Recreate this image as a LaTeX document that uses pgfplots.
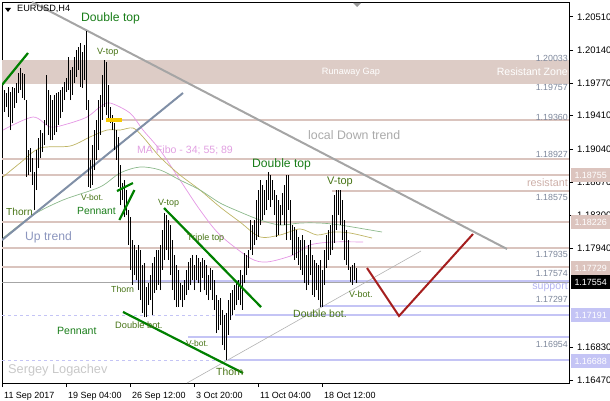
\documentclass[border=0pt]{standalone}
\usepackage{pgfplots}
\usepackage{pgfplotstable}
\pgfplotsset{compat=1.18}
\usepackage{fontspec}
\setmainfont{Liberation Sans}
\definecolor{zone}{RGB}{221,204,198}
\definecolor{lvl}{RGB}{218,196,190}
\definecolor{lav}{RGB}{196,196,245}
\definecolor{tagpink}{RGB}{220,196,190}
\definecolor{downgray}{RGB}{165,165,165}
\definecolor{upblue}{RGB}{128,143,166}
\definecolor{dred}{RGB}{165,30,30}
\definecolor{dgreen}{RGB}{0,128,0}
\definecolor{maviol}{RGB}{228,150,228}
\definecolor{maolive}{RGB}{190,180,100}
\definecolor{magreen}{RGB}{140,185,140}
\definecolor{lblgreen}{RGB}{25,125,25}
\definecolor{lblolive}{RGB}{70,115,20}
\definecolor{pricegray}{RGB}{125,135,155}
\definecolor{mygold}{RGB}{245,200,0}
\newcommand{\fs}[1]{\fontsize{#1}{#1}\selectfont}
\pgfplotstableread{
i l h
0 1.19451 1.19717
1 1.19451 1.19695
2 1.19506 1.19662
3 1.19395 1.19729
4 1.19250 1.19673
5 1.19328 1.19729
6 1.19495 1.19717
7 1.19551 1.19773
8 1.19662 1.19884
9 1.19695 1.19940
10 1.19606 1.19884
11 1.19584 1.19873
12 1.18728 1.19584
13 1.18750 1.19028
14 1.18783 1.19050
15 1.18639 1.18939
16 1.18361 1.18783
17 1.18583 1.19028
18 1.18828 1.19161
19 1.18939 1.19250
20 1.19006 1.19217
21 1.19084 1.19362
22 1.19306 1.19862
23 1.19195 1.19695
24 1.19139 1.19640
25 1.19139 1.19584
26 1.19195 1.19640
27 1.19228 1.19662
28 1.19306 1.19673
29 1.19384 1.19695
30 1.19451 1.19729
31 1.19584 1.19784
32 1.19673 1.19829
33 1.19695 1.20062
34 1.19584 1.19918
35 1.19640 1.19951
36 1.19773 1.20062
37 1.19840 1.20140
38 1.19918 1.20173
39 1.19729 1.20218
40 1.19717 1.20118
41 1.19806 1.20196
42 1.19473 1.20351
43 1.18617 1.19584
44 1.18605 1.18917
45 1.18639 1.19084
46 1.18806 1.19250
47 1.18917 1.19362
48 1.19028 1.19584
49 1.19195 1.19640
50 1.19362 1.19862
51 1.19506 1.20029
52 1.19417 1.20007
53 1.19362 1.19751
54 1.19328 1.19506
55 1.19250 1.19417
56 1.19028 1.19328
57 1.18917 1.19250
58 1.18617 1.19173
59 1.18416 1.18861
60 1.18472 1.18661
61 1.18283 1.18694
62 1.18305 1.18583
63 1.17972 1.18361
64 1.17694 1.18283
65 1.17527 1.18027
66 1.17638 1.17972
67 1.17582 1.17916
68 1.17471 1.17972
69 1.17360 1.17916
70 1.17215 1.17749
71 1.17171 1.17771
72 1.17171 1.17505
73 1.17304 1.17549
74 1.17360 1.17638
75 1.17193 1.17771
76 1.17438 1.17838
77 1.17471 1.17916
78 1.17527 1.17916
79 1.17471 1.17972
80 1.17694 1.18138
81 1.17805 1.18327
82 1.17916 1.18305
83 1.17805 1.18250
84 1.17638 1.18194
85 1.17471 1.18027
86 1.17360 1.17860
87 1.17282 1.17749
88 1.17282 1.17694
89 1.17360 1.17549
90 1.17282 1.17527
91 1.17360 1.17582
92 1.17416 1.17694
93 1.17471 1.17783
94 1.17527 1.17827
95 1.17582 1.17860
96 1.17471 1.17749
97 1.17582 1.17860
98 1.17549 1.17827
99 1.17449 1.17783
100 1.17605 1.17827
101 1.17471 1.17805
102 1.17416 1.17749
103 1.17360 1.17638
104 1.17471 1.17716
105 1.17360 1.17694
106 1.17249 1.17582
107 1.16993 1.17416
108 1.17026 1.17360
109 1.17082 1.17382
110 1.16858 1.17249
111 1.16804 1.17193
112 1.16693 1.17215
113 1.16971 1.17360
114 1.17138 1.17438
115 1.17193 1.17471
116 1.17249 1.17527
117 1.17304 1.17549
118 1.17360 1.17582
119 1.17304 1.17694
120 1.17249 1.17638
121 1.17549 1.17883
122 1.17638 1.17860
123 1.17716 1.17916
124 1.17916 1.18250
125 1.17860 1.18194
126 1.17972 1.18250
127 1.18027 1.18472
128 1.18061 1.18583
129 1.18194 1.18694
130 1.18250 1.18639
131 1.18305 1.18583
132 1.18361 1.18694
133 1.18472 1.18783
134 1.18394 1.18750
135 1.18472 1.18694
136 1.18305 1.18583
137 1.18061 1.18528
138 1.18083 1.18472
139 1.18194 1.18416
140 1.18305 1.18550
141 1.18194 1.18639
142 1.18027 1.18750
143 1.18361 1.18750
144 1.18027 1.18472
145 1.17860 1.18194
146 1.17805 1.18172
147 1.17827 1.18138
148 1.17749 1.18061
149 1.17694 1.18027
150 1.17638 1.18083
151 1.17549 1.18027
152 1.17471 1.17860
153 1.17527 1.17972
154 1.17638 1.18027
155 1.17416 1.17860
156 1.17393 1.17805
157 1.17471 1.17771
158 1.17360 1.17749
159 1.17282 1.17805
160 1.17282 1.17694
161 1.17527 1.17916
162 1.17716 1.18083
163 1.17805 1.18138
164 1.17860 1.18194
165 1.17916 1.18305
166 1.17994 1.18528
167 1.18138 1.18583
168 1.18305 1.18583
169 1.18194 1.18583
170 1.18027 1.18472
171 1.17805 1.18250
172 1.17749 1.18138
173 1.17694 1.18027
174 1.17560 1.17727
175 1.17527 1.17749
176 1.17582 1.17771
177 1.17549 1.17716
}\bars
\begin{document}
\begin{tikzpicture}[x=1bp,y=1bp]
\path[use as bounding box] (0,0) rectangle (610,400);
\begin{axis}[
  at={(2bp,17bp)}, anchor=south west,
  scale only axis, width=567bp, height=381bp,
  xmin=0, xmax=283.5, ymin=1.16437, ymax=1.20674,
  axis line style={black, line width=0.8bp},
  tick align=outside, major tick length=4bp,
  tick style={black, line width=0.6bp},
  xtick pos=bottom, ytick pos=right,
  xtick={0,32,64,96,128,160},
  xticklabels={11 Sep 2017,19 Sep 04:00,26 Sep 12:00,3 Oct 20:00,11 Oct 04:00,18 Oct 12:00},
  xticklabel style={anchor=north west, inner sep=0pt, xshift=2bp, yshift=-5bp, font=\fs{9}},
  yticklabel pos=right,
  ytick={1.2051,1.2014,1.1977,1.1941,1.1904,1.1867,1.1830,1.1794,1.1683,1.1647},
  yticklabel style={anchor=west, inner sep=0pt, xshift=4bp, font=\fs{9.5},
    /pgf/number format/.cd, fixed, fixed zerofill, precision=5, assume math mode=true},
  scaled y ticks=false,
  clip=true,
]
% resistant zone band
\addplot[fill=zone, draw=none] coordinates {(0,1.19757) (283.5,1.19757) (283.5,1.20033) (0,1.20033)} -- cycle;
% pink levels
\addplot[lvl, line width=2bp] coordinates {(52,1.19360) (283.5,1.19360)};
\addplot[lvl, line width=2bp] coordinates {(0,1.18927) (283.5,1.18927)};
\addplot[lvl, line width=2bp] coordinates {(0,1.18755) (283.5,1.18755)};
\addplot[lvl, line width=2bp] coordinates {(165,1.18575) (283.5,1.18575)};
\addplot[lvl, line width=2bp] coordinates {(0,1.18226) (283.5,1.18226)};
\addplot[lvl, line width=2bp] coordinates {(0,1.17935) (283.5,1.17935)};
\addplot[lvl, line width=2bp] coordinates {(0,1.17729) (283.5,1.17729)};
% bid line
\addplot[gray!70, line width=0.6bp] coordinates {(0,1.17554) (283.5,1.17554)};
% lavender levels
\addplot[lav, line width=2bp] coordinates {(65,1.17574) (283.5,1.17574)};
\addplot[lav, line width=2bp] coordinates {(159,1.17297) (283.5,1.17297)};
\addplot[lav, line width=2bp] coordinates {(116.5,1.17191) (283.5,1.17191)};
\addplot[lav, line width=0.8bp, dash pattern=on 3bp off 3bp] coordinates {(0,1.17191) (116.5,1.17191)};
\addplot[lav, line width=2bp] coordinates {(93,1.16954) (283.5,1.16954)};
\addplot[lav, line width=2bp] coordinates {(113,1.16688) (283.5,1.16688)};
\addplot[lav, line width=0.8bp, dash pattern=on 3bp off 3bp] coordinates {(0,1.16688) (113,1.16688)};
% moving averages
\addplot[maviol, line width=0.7bp, smooth] coordinates {(0.5,1.19250) (15.5,1.19395) (24,1.19284) (32.5,1.19317) (42.5,1.19395) (49,1.19506) (54,1.19551) (64,1.19439) (70.5,1.19250) (79,1.19028) (89,1.18694) (99,1.18361) (109,1.18083) (124,1.17827) (132.5,1.17783) (145.5,1.17860) (154,1.17972) (165.5,1.18005) (180.5,1.18005)};
\addplot[maolive, line width=0.7bp, smooth] coordinates {(0.5,1.18728) (9,1.18883) (19,1.19050) (34,1.19072) (44,1.19173) (52.5,1.19250) (59,1.19250) (65.5,1.19273) (70.5,1.19173) (79,1.18950) (89,1.18750) (99,1.18583) (109,1.18394) (119,1.18227) (129,1.18061) (139,1.18083) (149,1.18150) (157.5,1.18083) (165.5,1.18116) (174,1.18105) (185,1.18049)};
\addplot[magreen, line width=0.7bp, smooth] coordinates {(0.5,1.18049) (15.5,1.18305) (30.5,1.18472) (49,1.18617) (59,1.18772) (69,1.18839) (79,1.18806) (89,1.18694) (99,1.18583) (109,1.18439) (119,1.18339) (129,1.18250) (139,1.18194) (149,1.18216) (159,1.18216) (169,1.18194) (190,1.18116)};
% trend lines (behind bars)
\addplot[upblue, line width=2bp] coordinates {(0,1.18027) (90.5,1.19662)};
\addplot[downgray, line width=2bp] coordinates {(15,1.20674) (252.5,1.17927)};
\addplot[gray!60, line width=0.6bp] coordinates {(92.5,1.16437) (209.5,1.17905)};
% price bars
\addplot[draw=none, mark=none, error bars/.cd, y dir=plus, y explicit, error mark=none,
  error bar style={draw=black, line width=1bp, line cap=butt}]
  table[x=i, y=l, y error expr=\thisrow{h}-\thisrow{l}] {\bars};
% marker and pattern lines
\addplot[mygold, line width=4bp] coordinates {(52,1.19362) (60,1.19362)};
\addplot[dred, line width=2bp] coordinates {(182.5,1.17716) (198.5,1.17182) (235.5,1.18094)};
\addplot[dgreen, line width=2.2bp] coordinates {(0,1.19751) (13,1.20107)};
\addplot[dgreen, line width=2.2bp] coordinates {(57.5,1.18572) (65.5,1.18661)};
\addplot[dgreen, line width=2.2bp] coordinates {(58.7,1.18250) (66.2,1.18583)};
\addplot[dgreen, line width=2.2bp] coordinates {(81,1.18383) (129.5,1.17282)};
\addplot[dgreen, line width=2.2bp] coordinates {(60.5,1.17227) (120.5,1.16548)};
\end{axis}
% header
\fill (5,392) -- (11,392) -- (8,388) -- cycle;
\node[anchor=west, inner sep=0pt, font=\fs{9.2}] at (17,391) {EURUSD,H4};
\fill[gray!80] (353,397) -- (361,397) -- (357,393) -- cycle;
% zone texts
\node[inner sep=0pt, text=white, font=\fs{9.2}] at (351,328) {Runaway Gap};
\node[anchor=east, inner sep=0pt, text=white, font=\fs{10.6}] at (568,328) {Resistant Zone};
% level price texts
\begin{scope}[every node/.style={anchor=east, inner sep=0pt, text=pricegray, font=\fs{8.9}}]
\node at (568,342) {1.20033};
\node at (568,313) {1.19757};
\node at (568,283) {1.19360};
\node at (568,246) {1.18927};
\node at (568,203) {1.18575};
\node at (568,146) {1.17935};
\node at (568,127) {1.17574};
\node at (568,101) {1.17297};
\node at (568,56) {1.16954};
\end{scope}
\node[anchor=east, inner sep=0pt, text={rgb,255:red,205;green,175;blue,168}, font=\fs{10.8}] at (568,217) {resistant};
\node[anchor=east, inner sep=0pt, text={rgb,255:red,180;green,180;blue,240}, font=\fs{10.7}] at (568,113) {support};
% annotations
\node[anchor=west, inner sep=0pt, text={rgb,255:red,170;green,170;blue,170}, font=\fs{12.4}] at (308,265) {local Down trend};
\node[anchor=west, inner sep=0pt, text={rgb,255:red,225;green,160;blue,225}, font=\fs{10.6}] at (137,250) {MA Fibo - 34; 55; 89};
\node[anchor=west, inner sep=0pt, text={rgb,255:red,140;green,150;blue,190}, font=\fs{12.2}] at (25,163) {Up trend};
\node[anchor=west, inner sep=0pt, text={rgb,255:red,200;green,200;blue,200}, font=\fs{12.8}] at (8,30) {Sergey Logachev};
\begin{scope}[every node/.style={anchor=west, inner sep=0pt, text=lblgreen}]
\node[font=\fs{12.2}] at (81,382) {Double top};
\node[font=\fs{12.2}] at (252,236) {Double top};
\node[font=\fs{10.4}] at (77,189) {Pennant};
\node[font=\fs{10.6}] at (57,69) {Pennant};
\end{scope}
\begin{scope}[every node/.style={anchor=west, inner sep=0pt, text=lblolive}]
\node[font=\fs{9.1}] at (97,348) {V-top};
\node[font=\fs{11}] at (327,218) {V-top};
\node[font=\fs{9}] at (158,197) {V-top};
\node[font=\fs{10.2}] at (6,188) {Thorn};
\node[font=\fs{8.8}] at (111,111) {Thorn};
\node[font=\fs{10.4}] at (216,28) {Thorn};
\node[font=\fs{8.5}] at (81,203) {V-bot.};
\node[font=\fs{8.5}] at (186,57) {V-bot.};
\node[font=\fs{9}] at (349,106) {V-bot.};
\node[font=\fs{9}] at (187,162) {Triple top};
\node[font=\fs{9.3}] at (115,75) {Double bot.};
\node[font=\fs{10.5}] at (293,86) {Double bot.};
\end{scope}
% price tags
\begin{scope}[every node/.style={anchor=west, inner sep=0pt, minimum width=39bp, minimum height=14bp, text=white, font=\fs{9}}]
\node[fill=tagpink] at (571,225) {1.18755};
\node[fill=tagpink] at (571,178) {1.18226};
\node[fill=tagpink] at (571,132) {1.17729};
\node[fill=black] at (571,118) {1.17554};
\node[fill=lav] at (571,85) {1.17191};
\node[fill=lav] at (571,39) {1.16688};
\end{scope}
\end{tikzpicture}
\end{document}
